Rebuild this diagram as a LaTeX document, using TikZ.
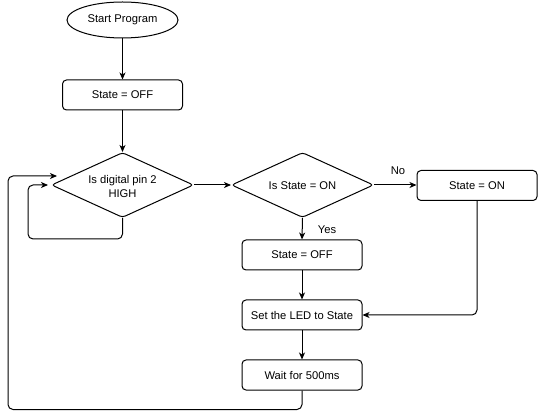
\documentclass[tikz,border=0pt]{standalone}
\usepackage{fontspec}
\setmainfont{Liberation Sans}
\usetikzlibrary{shapes.geometric,arrows.meta,calc}
\tikzset{
  box/.style={draw, rounded corners=4pt, minimum width=120pt, minimum height=30pt, inner sep=0pt, line width=1pt},
  dia/.style={draw, diamond, aspect=2.2, minimum width=142pt, minimum height=65pt, inner sep=0pt, rounded corners=3pt, line width=1pt},
  term/.style={draw, ellipse, minimum width=111pt, minimum height=36pt, inner sep=0pt, line width=1pt},
  txt/.style={align=center, inner sep=0pt},
  conn/.style={line width=1pt, -{Stealth[length=7pt,width=6pt,inset=2pt]}, rounded corners=5pt},
  lbl/.style={inner sep=0pt}
}
\begin{document}
\begin{tikzpicture}[x=1pt,y=-1pt,font=\fontsize{11.2}{14}\selectfont]
\useasboundingbox (0,0) rectangle (538,419);
\node[term] (start) at (122.5,20) {Start Program};
\node[box] (s1) at (122.5,95) {State = OFF};
\node[dia] (d1) at (122.5,185) {};
\node[txt] (d1t) at (122.5,186) {Is digital pin 2\\HIGH};
\node[dia] (d2) at (302.5,185) {};
\node[txt] (d2t) at (302.5,186) {Is State = ON};
\node[box] (son) at (477,185.5) {State = ON};
\node[box] (soff) at (302,255) {State = OFF};
\node[box] (led) at (302,315) {Set the LED to State};
\node[box] (wait) at (302,375) {Wait for 500ms};
\node[lbl] (no) at (398,171) {No};
\node[lbl] (yes) at (327,230) {Yes};

\coordinate (loopA) at (122.5,239);
\coordinate (loopB) at (28,185);
\coordinate (bigA) at (302,409.5);
\coordinate (bigB) at (8,176);

\draw[conn] (start) -- (s1);
\draw[conn] (s1) -- (d1);
\draw[conn] (d1.south) -- (loopA) -| (loopB) -- ([xshift=-3pt]d1.west);
\draw[conn] (wait.south) -- (bigA) -| (bigB) -- ($(d1.west)+(6,-9)$);
\draw[conn] (d1.east) -- (d2.west);
\draw[conn] (d2.east) -- (d2.east -| son.west);
\draw[conn] (d2.south) -- (soff.north);
\draw[conn] (soff) -- (led);
\draw[conn] (led) -- (wait);
\draw[conn] (son.south) |- (led.east);
\end{tikzpicture}
\end{document}
